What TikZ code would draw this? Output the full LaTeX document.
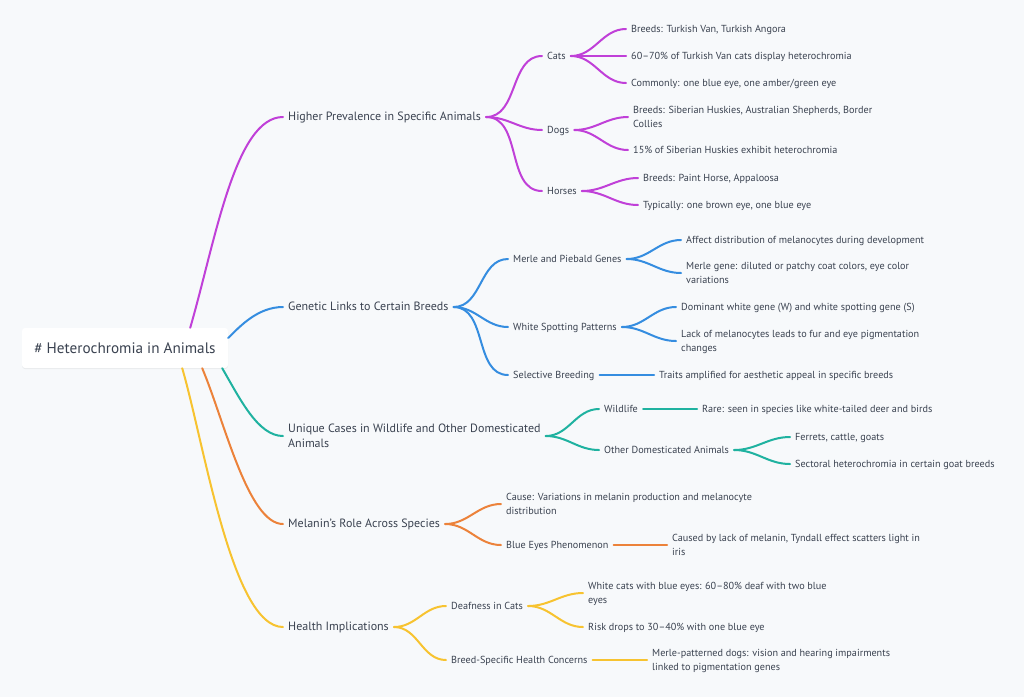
\documentclass[tikz,border=0pt]{standalone}
\usepackage{fontspec}
\setmainfont{PT Sans}
\usetikzlibrary{shadows}

\definecolor{bgcol}{HTML}{F7F9FB}
\definecolor{ink}{HTML}{3A4250}
\definecolor{mmpurple}{HTML}{C040D8}
\definecolor{mmblue}{HTML}{358DE0}
\definecolor{mmteal}{HTML}{1FB2A0}
\definecolor{mmorange}{HTML}{EC823A}
\definecolor{mmyellow}{HTML}{F7C330}

\begin{document}
\begin{tikzpicture}[x=1pt,y=-1pt,
    rootbox/.style={fill=white,rounded corners=3pt,minimum width=206pt,minimum height=40pt,
        text=ink,font=\fontsize{15.2}{18}\selectfont,
        drop shadow={shadow xshift=0pt,shadow yshift=-1pt,opacity=0.06,fill=black}},
    topic/.style={anchor=west,inner xsep=5pt,inner ysep=1pt,align=left,text=ink,
        text height=0.75em,text depth=0.05em,font=\fontsize{12}{15}\selectfont},
    subnode/.style={topic,font=\fontsize{10.2}{14}\selectfont},
    twoline/.style={text height=21.7pt},
    conn/.style={line width=2pt,line cap=round}
    ]

   \fill[bgcol] (0,0) rectangle (1024,697);
   \useasboundingbox (0,0) rectangle (1024,697);

   \node(root) [rootbox] at (125,348) {\# Heterochromia in Animals};

   % main topics
   \node(prev) [topic] at (283,117) {Higher Prevalence in Specific Animals};
   \node(gen) [topic] at (283,307) {Genetic Links to Certain Breeds};
   \node(uniq) [topic,text height=24pt] at (283,436) {Unique Cases in Wildlife and Other Domesticated\\Animals};
   \node(mel) [topic] at (283,524) {Melanin's Role Across Species};
   \node(health) [topic] at (283,627) {Health Implications};

   % higher prevalence
   \node(cats) [subnode] at (542,56) {Cats};
   \node(dogs) [subnode] at (542,130) {Dogs};
   \node(horses) [subnode] at (542,191) {Horses};
   \node(cat1) [subnode] at (626,29) {Breeds: Turkish Van, Turkish Angora};
   \node(cat2) [subnode] at (626,56) {60--70\% of Turkish Van cats display heterochromia};
   \node(cat3) [subnode] at (626,83) {Commonly: one blue eye, one amber/green eye};
   \node(dog1) [subnode,twoline] at (628,117) {Breeds: Siberian Huskies, Australian Shepherds, Border\\Collies};
   \node(dog2) [subnode] at (628,150) {15\% of Siberian Huskies exhibit heterochromia};
   \node(horse1) [subnode] at (638,178) {Breeds: Paint Horse, Appaloosa};
   \node(horse2) [subnode] at (638,205) {Typically: one brown eye, one blue eye};

   % genetic links
   \node(merle) [subnode] at (508,259) {Merle and Piebald Genes};
   \node(spot) [subnode] at (508,327) {White Spotting Patterns};
   \node(sel) [subnode] at (508,375) {Selective Breeding};
   \node(merle1) [subnode] at (681,240) {Affect distribution of melanocytes during development};
   \node(merle2) [subnode,twoline] at (681,273) {Merle gene: diluted or patchy coat colors, eye color\\variations};
   \node(spot1) [subnode] at (676,307) {Dominant white gene (W) and white spotting gene (S)};
   \node(spot2) [subnode,twoline] at (676,341) {Lack of melanocytes leads to fur and eye pigmentation\\changes};
   \node(sel1) [subnode] at (654,375) {Traits amplified for aesthetic appeal in specific breeds};

   % unique cases
   \node(wl) [subnode] at (599,409) {Wildlife};
   \node(dom) [subnode] at (599,450) {Other Domesticated Animals};
   \node(wl1) [subnode] at (697,409) {Rare: seen in species like white-tailed deer and birds};
   \node(dom1) [subnode] at (790,437) {Ferrets, cattle, goats};
   \node(dom2) [subnode] at (790,464) {Sectoral heterochromia in certain goat breeds};

   % melanin
   \node(cause) [subnode,twoline] at (501,504) {Cause: Variations in melanin production and melanocyte\\distribution};
   \node(blue) [subnode] at (501,545) {Blue Eyes Phenomenon};
   \node(blue1) [subnode,twoline] at (667,545) {Caused by lack of melanin, Tyndall effect scatters light in\\iris};

   % health
   \node(deaf) [subnode] at (446,606) {Deafness in Cats};
   \node(breed) [subnode] at (446,660) {Breed-Specific Health Concerns};
   \node(deaf1) [subnode,twoline] at (583,593) {White cats with blue eyes: 60--80\% deaf with two blue\\eyes};
   \node(deaf2) [subnode] at (583,627) {Risk drops to 30--40\% with one blue eye};
   \node(breed1) [subnode,twoline] at (647,660) {Merle-patterned dogs: vision and hearing impairments\\linked to pigmentation genes};

   % from the root
   \draw[conn,mmpurple] ([xshift=-38pt]root.north east) .. controls +(25,-86) and +(-48,0) .. (prev.west);
   \draw[conn,mmblue] ([yshift=10pt]root.east) .. controls +(12,-12) and +(-25,0) .. (gen.west);
   \draw[conn,mmteal] ([xshift=-6pt]root.south east) .. controls +(18,31) and +(-25,0) .. (uniq.west);
   \draw[conn,mmorange] ([xshift=-26pt]root.south east) .. controls +(22,52) and +(-35,0) .. (mel.west);
   \draw[conn,mmyellow] ([xshift=-46pt]root.south east) .. controls +(22,75) and +(-51,0) .. (health.west);

   \foreach \p/\c in {prev/cats,prev/dogs,prev/horses,cats/cat1,cats/cat2,cats/cat3,
        dogs/dog1,dogs/dog2,horses/horse1,horses/horse2}
   	\draw[conn,mmpurple] (\p.east) to[out=0,in=180] (\c.west);
   \foreach \p/\c in {gen/merle,gen/spot,gen/sel,merle/merle1,merle/merle2,
        spot/spot1,spot/spot2,sel/sel1}
   	\draw[conn,mmblue] (\p.east) to[out=0,in=180] (\c.west);
   \foreach \p/\c in {uniq/wl,uniq/dom,wl/wl1,dom/dom1,dom/dom2}
   	\draw[conn,mmteal] (\p.east) to[out=0,in=180] (\c.west);
   \foreach \p/\c in {mel/cause,mel/blue,blue/blue1}
   	\draw[conn,mmorange] (\p.east) to[out=0,in=180] (\c.west);
   \foreach \p/\c in {health/deaf,health/breed,deaf/deaf1,deaf/deaf2,breed/breed1}
   	\draw[conn,mmyellow] (\p.east) to[out=0,in=180] (\c.west);

\end{tikzpicture}
\end{document}
